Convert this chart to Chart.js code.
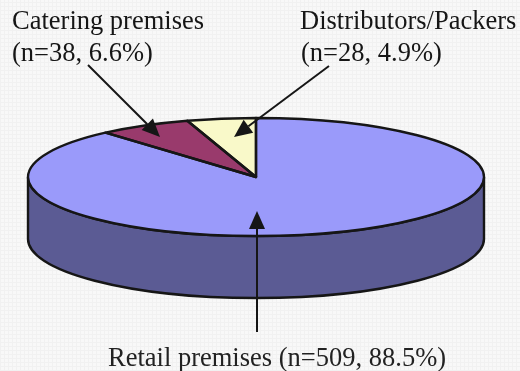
<!DOCTYPE html>
<html>
<head>
<meta charset="utf-8">
<script src="https://cdn.jsdelivr.net/npm/chart.js@4"></script>
<style>
  html, body { margin: 0; padding: 0; }
  body {
    width: 520px; height: 371px; overflow: hidden;
    background-color: #f8f8f8;
    background-image:
      repeating-linear-gradient(90deg, #f1f1f1 0 1px, transparent 1px 4px),
      repeating-linear-gradient(0deg, #f1f1f1 0 1px, transparent 1px 4px);
  }
  canvas { display: block; }
</style>
</head>
<body>
<canvas id="pie" width="520" height="371"></canvas>
<script>
var categories = ['Retail premises', 'Catering premises', 'Distributors/Packers'];
var counts = [509, 38, 28];
var shares = ['88.5%', '6.6%', '4.9%'];
var sliceColors = ['#9a9afa', '#993a6c', '#f9f9c9'];
var wallColor = '#5b5b94';
var inkColor = '#161616';

// pie shape
var radiusX = 228;
var squash = 59 / 228;
var depth = 62;

// callout text and arrows, same order as categories
var callouts = [
    { lines: [[108, 366, 0]], from: [257, 332], to: [257, 211] },
    { lines: [[12, 29, 1], [12, 61, 2]], from: [88, 65], to: [160, 137] },
    { lines: [[300, 29, 1], [301, 61, 2]], from: [329, 66], to: [234, 137] }
];

function ellipsePath(ctx, x, y, start, end, back) {
    ctx.ellipse(x, y, radiusX, radiusX * squash, 0, start, end, back);
}

function arrow(ctx, from, to) {
    var a = Math.atan2(to[1] - from[1], to[0] - from[0]);
    var len = 18, half = 8;
    var bx = to[0] - Math.cos(a) * len;
    var by = to[1] - Math.sin(a) * len;
    ctx.beginPath();
    ctx.moveTo(from[0], from[1]);
    ctx.lineTo(bx, by);
    ctx.lineWidth = 2;
    ctx.strokeStyle = inkColor;
    ctx.stroke();
    ctx.beginPath();
    ctx.moveTo(to[0], to[1]);
    ctx.lineTo(bx - Math.sin(a) * half, by + Math.cos(a) * half);
    ctx.lineTo(bx + Math.sin(a) * half, by - Math.cos(a) * half);
    ctx.closePath();
    ctx.fillStyle = inkColor;
    ctx.fill();
}

var pie3d = {
    id: 'pie3d',
    beforeDatasetDraw: function (chart) {
        var ctx = chart.ctx;
        var arc = chart.getDatasetMeta(0).data[0];
        // side wall goes under the top face
        ctx.save();
        ctx.beginPath();
        ellipsePath(ctx, arc.x, arc.y, 0, Math.PI);
        ellipsePath(ctx, arc.x, arc.y + depth, Math.PI, 0, true);
        ctx.closePath();
        ctx.fillStyle = wallColor;
        ctx.fill();
        ctx.lineWidth = 2.4;
        ctx.strokeStyle = inkColor;
        ctx.stroke();
        ctx.restore();
        // flatten the library's arcs into an ellipse
        ctx.save();
        ctx.translate(arc.x, arc.y);
        ctx.scale(1, squash);
        ctx.translate(-arc.x, -arc.y);
    },
    afterDatasetDraw: function (chart) {
        var ctx = chart.ctx;
        ctx.restore();
        // outlines drawn after restore so the line width stays even
        chart.getDatasetMeta(0).data.forEach(function (arc) {
            ctx.save();
            ctx.beginPath();
            ctx.moveTo(arc.x, arc.y);
            ellipsePath(ctx, arc.x, arc.y, arc.startAngle, arc.endAngle);
            ctx.closePath();
            ctx.lineWidth = 2.4;
            ctx.lineJoin = 'round';
            ctx.strokeStyle = inkColor;
            ctx.stroke();
            ctx.restore();
        });
    },
    afterDraw: function (chart) {
        var ctx = chart.ctx;
        ctx.save();
        ctx.fillStyle = '#222222';
        ctx.font = '26.5px "Liberation Serif"';
        ctx.textBaseline = 'alphabetic';
        callouts.forEach(function (c, i) {
            var detail = '(n=' + counts[i] + ', ' + shares[i] + ')';
            var texts = [categories[i] + ' ' + detail, categories[i], detail];
            c.lines.forEach(function (l) {
                ctx.fillText(texts[l[2]], l[0], l[1]);
            });
            arrow(ctx, c.from, c.to);
        });
        ctx.restore();
    }
};

var ctx = document.getElementById('pie').getContext('2d');
var myChart = new Chart(ctx, {
    type: 'pie',
    data: {
        labels: categories,
        datasets: [{
            label: 'Premises',
            data: counts,
            backgroundColor: sliceColors,
            borderWidth: 0,
            clip: false
        }]
    },
    options: {
        responsive: false,
        maintainAspectRatio: false,
        animation: false,
        radius: radiusX,
        layout: { padding: { right: 8, bottom: 17 } },
        plugins: {
            legend: { display: false },
            tooltip: { enabled: false }
        }
    },
    plugins: [pie3d]
});
</script>
</body>
</html>
